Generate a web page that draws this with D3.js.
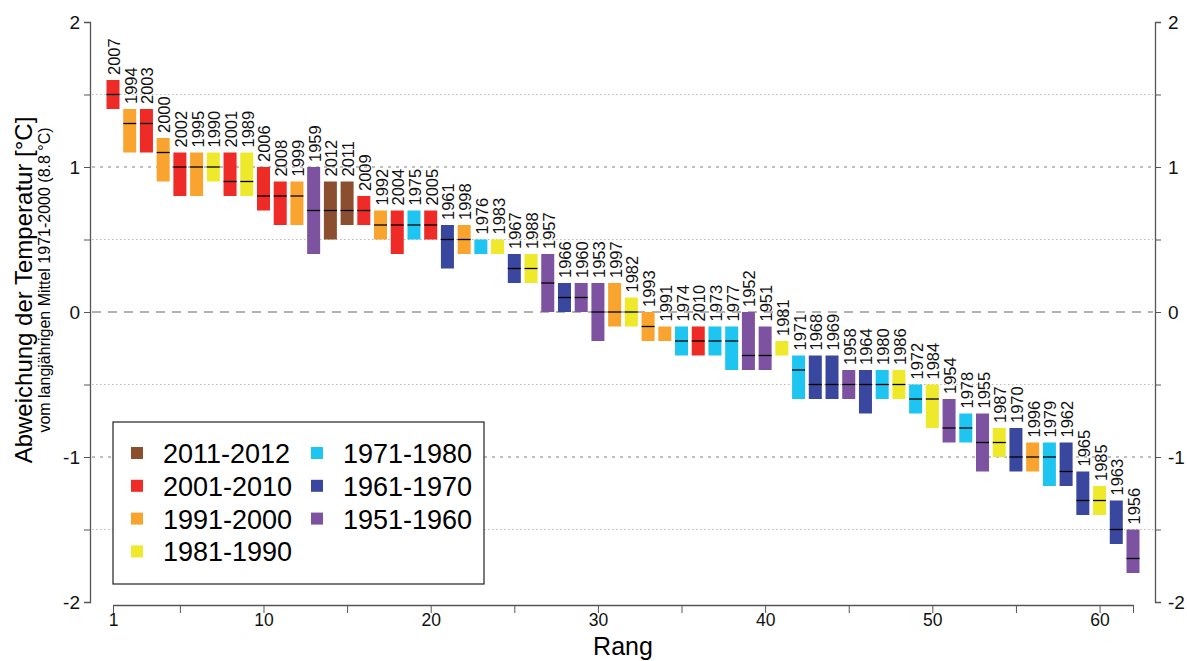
<!DOCTYPE html>
<html lang="de">
<head>
  <meta charset="UTF-8">
  <title>Rangfolge Jahresmitteltemperatur</title>
  <script src="https://d3js.org/d3.v7.min.js"></script>
  <style>
    body { margin: 0; background: white; }
    svg { font-family: "Liberation Sans", Arial, sans-serif; }
    .axis path, .axis line { stroke: #555; }
    .axis text { fill: #111; }
  </style>
</head>
<body>
<svg id="chart" width="1187" height="661"></svg>

<script>
  // Jahre nach Rang (1 = waermstes Jahr)
  const years = [2007, 1994, 2003, 2000, 2002, 1995, 1990, 2001, 1989, 2006,
    2008, 1999, 1959, 2012, 2011, 2009, 1992, 2004, 1975, 2005,
    1961, 1998, 1976, 1983, 1967, 1988, 1957, 1966, 1960, 1953,
    1997, 1982, 1993, 1991, 1974, 2010, 1973, 1977, 1952, 1951,
    1981, 1971, 1968, 1969, 1958, 1964, 1980, 1986, 1972, 1984,
    1954, 1978, 1955, 1987, 1970, 1996, 1979, 1962, 1965, 1985,
    1963, 1956];

  // untere / obere Grenze der Balken und Mittelwert (Strich), in K
  const lows = [1.4, 1.1, 1.1, 0.9, 0.8, 0.8, 0.9, 0.8, 0.8, 0.7,
    0.6, 0.6, 0.4, 0.5, 0.6, 0.6, 0.5, 0.4, 0.5, 0.5,
    0.3, 0.4, 0.4, 0.4, 0.2, 0.2, 0.0, 0.0, 0.0, -0.2,
    -0.1, -0.1, -0.2, -0.2, -0.3, -0.3, -0.3, -0.4, -0.4, -0.4,
    -0.3, -0.6, -0.6, -0.6, -0.6, -0.7, -0.6, -0.6, -0.7, -0.8,
    -0.9, -0.9, -1.1, -1.0, -1.1, -1.1, -1.2, -1.2, -1.4, -1.4,
    -1.6, -1.8];

  const highs = [1.6, 1.4, 1.4, 1.2, 1.1, 1.1, 1.1, 1.1, 1.1, 1.0,
    0.9, 0.9, 1.0, 0.9, 0.9, 0.8, 0.7, 0.7, 0.7, 0.7,
    0.6, 0.6, 0.5, 0.5, 0.4, 0.4, 0.4, 0.2, 0.2, 0.2,
    0.2, 0.1, 0.0, -0.1, -0.1, -0.1, -0.1, -0.1, 0.0, -0.1,
    -0.2, -0.3, -0.3, -0.3, -0.4, -0.4, -0.4, -0.4, -0.5, -0.5,
    -0.6, -0.7, -0.7, -0.8, -0.8, -0.9, -0.9, -0.9, -1.1, -1.2,
    -1.3, -1.5];

  // null = kein Strich sichtbar
  const means = [1.5, 1.3, 1.3, 1.1, 1.0, 1.0, 1.0, 0.9, 0.9, 0.8,
    0.8, 0.8, 0.7, 0.7, 0.7, 0.7, 0.6, 0.6, 0.6, 0.6,
    0.5, 0.5, null, null, 0.3, 0.3, 0.2, 0.1, 0.1, 0.0,
    0.0, 0.0, -0.1, null, -0.2, -0.2, -0.2, -0.2, -0.3, -0.3,
    null, -0.4, -0.5, -0.5, -0.5, -0.5, -0.5, -0.5, -0.6, -0.6,
    -0.8, -0.8, -0.9, -0.9, -1.0, -1.0, -1.0, -1.1, -1.3, -1.3,
    -1.5, -1.7];

  const decades = ["2011-2012", "2001-2010", "1991-2000", "1981-1990",
    "1971-1980", "1961-1970", "1951-1960"];
  const decadeColors = ["#8b4f30", "#ee2b26", "#f9a42e", "#efe92b",
    "#1ec5f0", "#3a479e", "#7d52a0"];

  const xTicks = [1, 5, 10, 15, 20, 25, 30, 35, 40, 45, 50, 55, 60, 62];
  const xLabels = [1, 10, 20, 30, 40, 50, 60];
  const yTicks = [-2, -1.5, -1, -0.5, 0, 0.5, 1, 1.5, 2];
  const yLabels = [-2, -1, 0, 1, 2];

  function decadeIndex(year) {
    if (year >= 2011) return 0;
    return Math.floor((2010 - year) / 10) + 1;
  }

  const svg = d3.select("#chart");

  const x = d3.scaleLinear().domain([1, 62]).range([113, 1133]);
  const y = d3.scaleLinear().domain([-2, 2]).range([602, 22]);
  const color = d3.scaleOrdinal().domain(decades).range(decadeColors);

  const data = years.map((yr, i) => ({
    rank: i + 1, year: yr, lo: lows[i], hi: highs[i], mean: means[i],
    decade: decades[decadeIndex(yr)]
  }));

  // Gitterlinien
  const grid = svg.append("g");
  [1.5, 0.5, -0.5, -1.5].forEach(v => {
    grid.append("line")
      .attr("x1", 92).attr("x2", 1153)
      .attr("y1", y(v)).attr("y2", y(v))
      .attr("stroke", "#bbb").attr("stroke-width", 1)
      .attr("stroke-dasharray", "1.5,2.5");
  });
  [1, -1].forEach(v => {
    grid.append("line")
      .attr("x1", 92).attr("x2", 1153)
      .attr("y1", y(v)).attr("y2", y(v))
      .attr("stroke", "#aaa").attr("stroke-width", 1.5)
      .attr("stroke-dasharray", "3,5");
  });
  grid.append("line")
    .attr("x1", 92).attr("x2", 1153)
    .attr("y1", y(0)).attr("y2", y(0))
    .attr("stroke", "#999").attr("stroke-width", 1.5)
    .attr("stroke-dasharray", "9,7");

  // Balken
  const barW = 13;
  const bars = svg.append("g");
  bars.selectAll("rect")
    .data(data)
    .enter().append("rect")
    .attr("x", d => x(d.rank) - barW / 2)
    .attr("width", barW)
    .attr("y", d => y(d.hi))
    .attr("height", d => y(d.lo) - y(d.hi))
    .attr("fill", d => color(d.decade));

  bars.selectAll("line")
    .data(data.filter(d => d.mean !== null))
    .enter().append("line")
    .attr("x1", d => x(d.rank) - barW / 2)
    .attr("x2", d => x(d.rank) + barW / 2)
    .attr("y1", d => y(d.mean))
    .attr("y2", d => y(d.mean))
    .attr("stroke", "black")
    .attr("stroke-width", 1.3);

  bars.selectAll("text")
    .data(data)
    .enter().append("text")
    .attr("transform", d => `translate(${x(d.rank) + 7},${y(d.hi) - 5}) rotate(-90)`)
    .attr("font-size", 16.5)
    .attr("fill", "#111")
    .text(d => d.year);

  // Achsen
  const yFmt = d => yLabels.includes(d) ? String(d) : "";
  const yAxisL = svg.append("g").attr("class", "axis")
    .attr("transform", "translate(90,0)")
    .call(d3.axisLeft(y).tickValues(yTicks).tickSize(6).tickFormat(yFmt));
  const yAxisR = svg.append("g").attr("class", "axis")
    .attr("transform", "translate(1155,0)")
    .call(d3.axisRight(y).tickValues(yTicks).tickSize(6).tickFormat(yFmt));
  [yAxisL, yAxisR].forEach(a => {
    a.select(".domain").attr("stroke-width", 1.3);
    a.selectAll("text").attr("font-size", 19);
  });
  yAxisL.selectAll("text").attr("x", -10);
  yAxisR.selectAll("text").attr("x", 13);

  const xAxis = svg.append("g").attr("class", "axis")
    .attr("transform", "translate(0,605)")
    .call(d3.axisBottom(x).tickValues(xTicks).tickSize(8).tickSizeOuter(0)
      .tickFormat(d => xLabels.includes(d) ? d : ""));
  xAxis.select(".domain").attr("stroke-width", 1.3);
  xAxis.selectAll("text").attr("font-size", 17.5).attr("y", 9);

  svg.append("text")
    .attr("x", 623).attr("y", 655)
    .attr("text-anchor", "middle")
    .attr("font-size", 25)
    .text("Rang");

  svg.append("text")
    .attr("transform", "translate(32,290) rotate(-90)")
    .attr("text-anchor", "middle")
    .attr("font-size", 24)
    .text("Abweichung der Temperatur [°C]");

  svg.append("text")
    .attr("transform", "translate(50,280) rotate(-90)")
    .attr("text-anchor", "middle")
    .attr("font-size", 16)
    .text("vom langjährigen Mittel 1971-2000 (8.8 °C)");

  // Legende
  const legend = svg.append("g");
  legend.append("rect")
    .attr("x", 113).attr("y", 422)
    .attr("width", 371).attr("height", 162)
    .attr("fill", "white").attr("stroke", "#222").attr("stroke-width", 1.2);

  const item = legend.selectAll("g.item")
    .data(decades)
    .enter().append("g")
    .attr("class", "item")
    .attr("transform", (d, i) => {
      const col = i < 4 ? 0 : 1;
      const row = i < 4 ? i : i - 4;
      return `translate(${131 + col * 180},${453 + row * 32.8})`;
    });
  item.append("rect")
    .attr("x", 0).attr("y", -6)
    .attr("width", 12).attr("height", 12)
    .attr("fill", d => color(d));
  item.append("text")
    .attr("x", 32).attr("y", 10)
    .attr("font-size", 27)
    .text(d => d);
</script>
</body>
</html>
